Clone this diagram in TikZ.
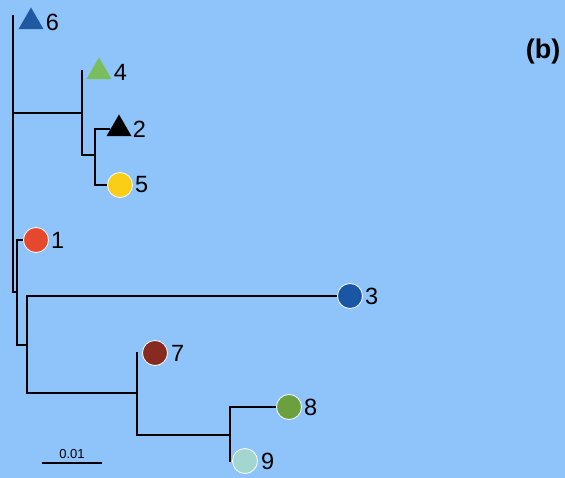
\documentclass[tikz,border=0pt]{standalone}
\usepackage{fontspec}
\setmainfont{Liberation Sans}
\usetikzlibrary{shapes.geometric,positioning}
\definecolor{bgblue}{RGB}{142,196,249}
\definecolor{tblue}{RGB}{32,88,162}
\definecolor{tgreen}{RGB}{122,190,92}
\definecolor{cyellow}{RGB}{250,205,22}
\definecolor{cred}{RGB}{230,72,45}
\definecolor{cblue}{RGB}{26,86,166}
\definecolor{cbrown}{RGB}{135,42,32}
\definecolor{cgreen}{RGB}{106,160,62}
\definecolor{cteal}{RGB}{162,214,206}
\begin{document}
\begin{tikzpicture}[x=1pt,y=-1pt,
    branch/.style={line width=1.9pt,black},
    dot/.style={circle,draw=white,line width=0.8pt,minimum size=25pt,inner sep=0pt},
    tri/.style={regular polygon,regular polygon sides=3,minimum size=29pt,inner sep=0pt},
    num/.style={font=\fontsize{23.5}{24}\selectfont,inner sep=0pt}]
            \fill[bgblue] (0,0) rectangle (565,478);

            \node[tri,fill=tblue] (l6) at (31,22) {};
            \node[tri,fill=tgreen] (l4) at (99,72) {};
            \node[tri,fill=black] (l2) at (119,129) {};
            \node[dot,fill=cyellow] (l5) at (120,185) {};
            \node[dot,fill=cred] (l1) at (36,240) {};
            \node[dot,fill=cblue] (l3) at (350,296) {};
            \node[dot,fill=cbrown] (l7) at (155,353) {};
            \node[dot,fill=cgreen] (l8) at (289,407) {};
            \node[dot,fill=cteal] (l9) at (245,461) {};

            \node[num,right=6pt of l6] (t6) {6};
            \node[num,right=6pt of l4] (t4) {4};
            \node[num,right=5pt of l2] (t2) {2};
            \node[num,right=2pt of l5] (t5) {5};
            \node[num,right=2pt of l1] (t1) {1};
            \node[num,right=2pt of l3] (t3) {3};
            \node[num,right=3pt of l7] (t7) {7};
            \node[num,right=2pt of l8] (t8) {8};
            \node[num,right=3pt of l9] (t9) {9};

            \coordinate (r) at (13,15);
            \coordinate (r0) at (13,292);
            \coordinate (a) at (13,113);
            \coordinate (a4) at (82,70);
            \coordinate (a0) at (82,155);
            \coordinate (b) at (95,155);
            \coordinate (b2) at (95,129);
            \coordinate (b5) at (95,185);
            \coordinate (c1) at (17,240);
            \coordinate (c) at (17,345);
            \coordinate (d) at (27,345);
            \coordinate (d3) at (27,296);
            \coordinate (d0) at (27,393);
            \coordinate (e) at (137,393);
            \coordinate (e7) at (137,352);
            \coordinate (e0) at (137,435);
            \coordinate (f) at (230,435);
            \coordinate (f8) at (230,407);
            \coordinate (f9) at (230,462);

            \draw[branch] (r) -- (r0) -- (r0 -| c1);
            \draw[branch] (a) -- (a -| a4);
            \draw[branch] (a4) -- (a0) -- (b);
            \draw[branch] (l2) -- (b2) -- (b5) -- (l5);
            \draw[branch] (l1) -- (c1) -- (c) -- (d);
            \draw[branch] (l3) -- (d3) -- (d0) -- (e);
            \draw[branch] (e7) -- (e0) -- (f);
            \draw[branch] (l8) -- (f8) -- (f9);

            \coordinate (s1) at (42,463);
            \coordinate (s2) at (102,463);
            \draw[line width=2pt] (s1) -- (s2) node[midway,above=3pt,inner sep=0pt,font=\fontsize{13}{13}\selectfont] (sl) {0.01};

            \node[font=\bfseries\fontsize{27}{27}\selectfont] (lab) at (543,52) {(b)};
\end{tikzpicture}
\end{document}
